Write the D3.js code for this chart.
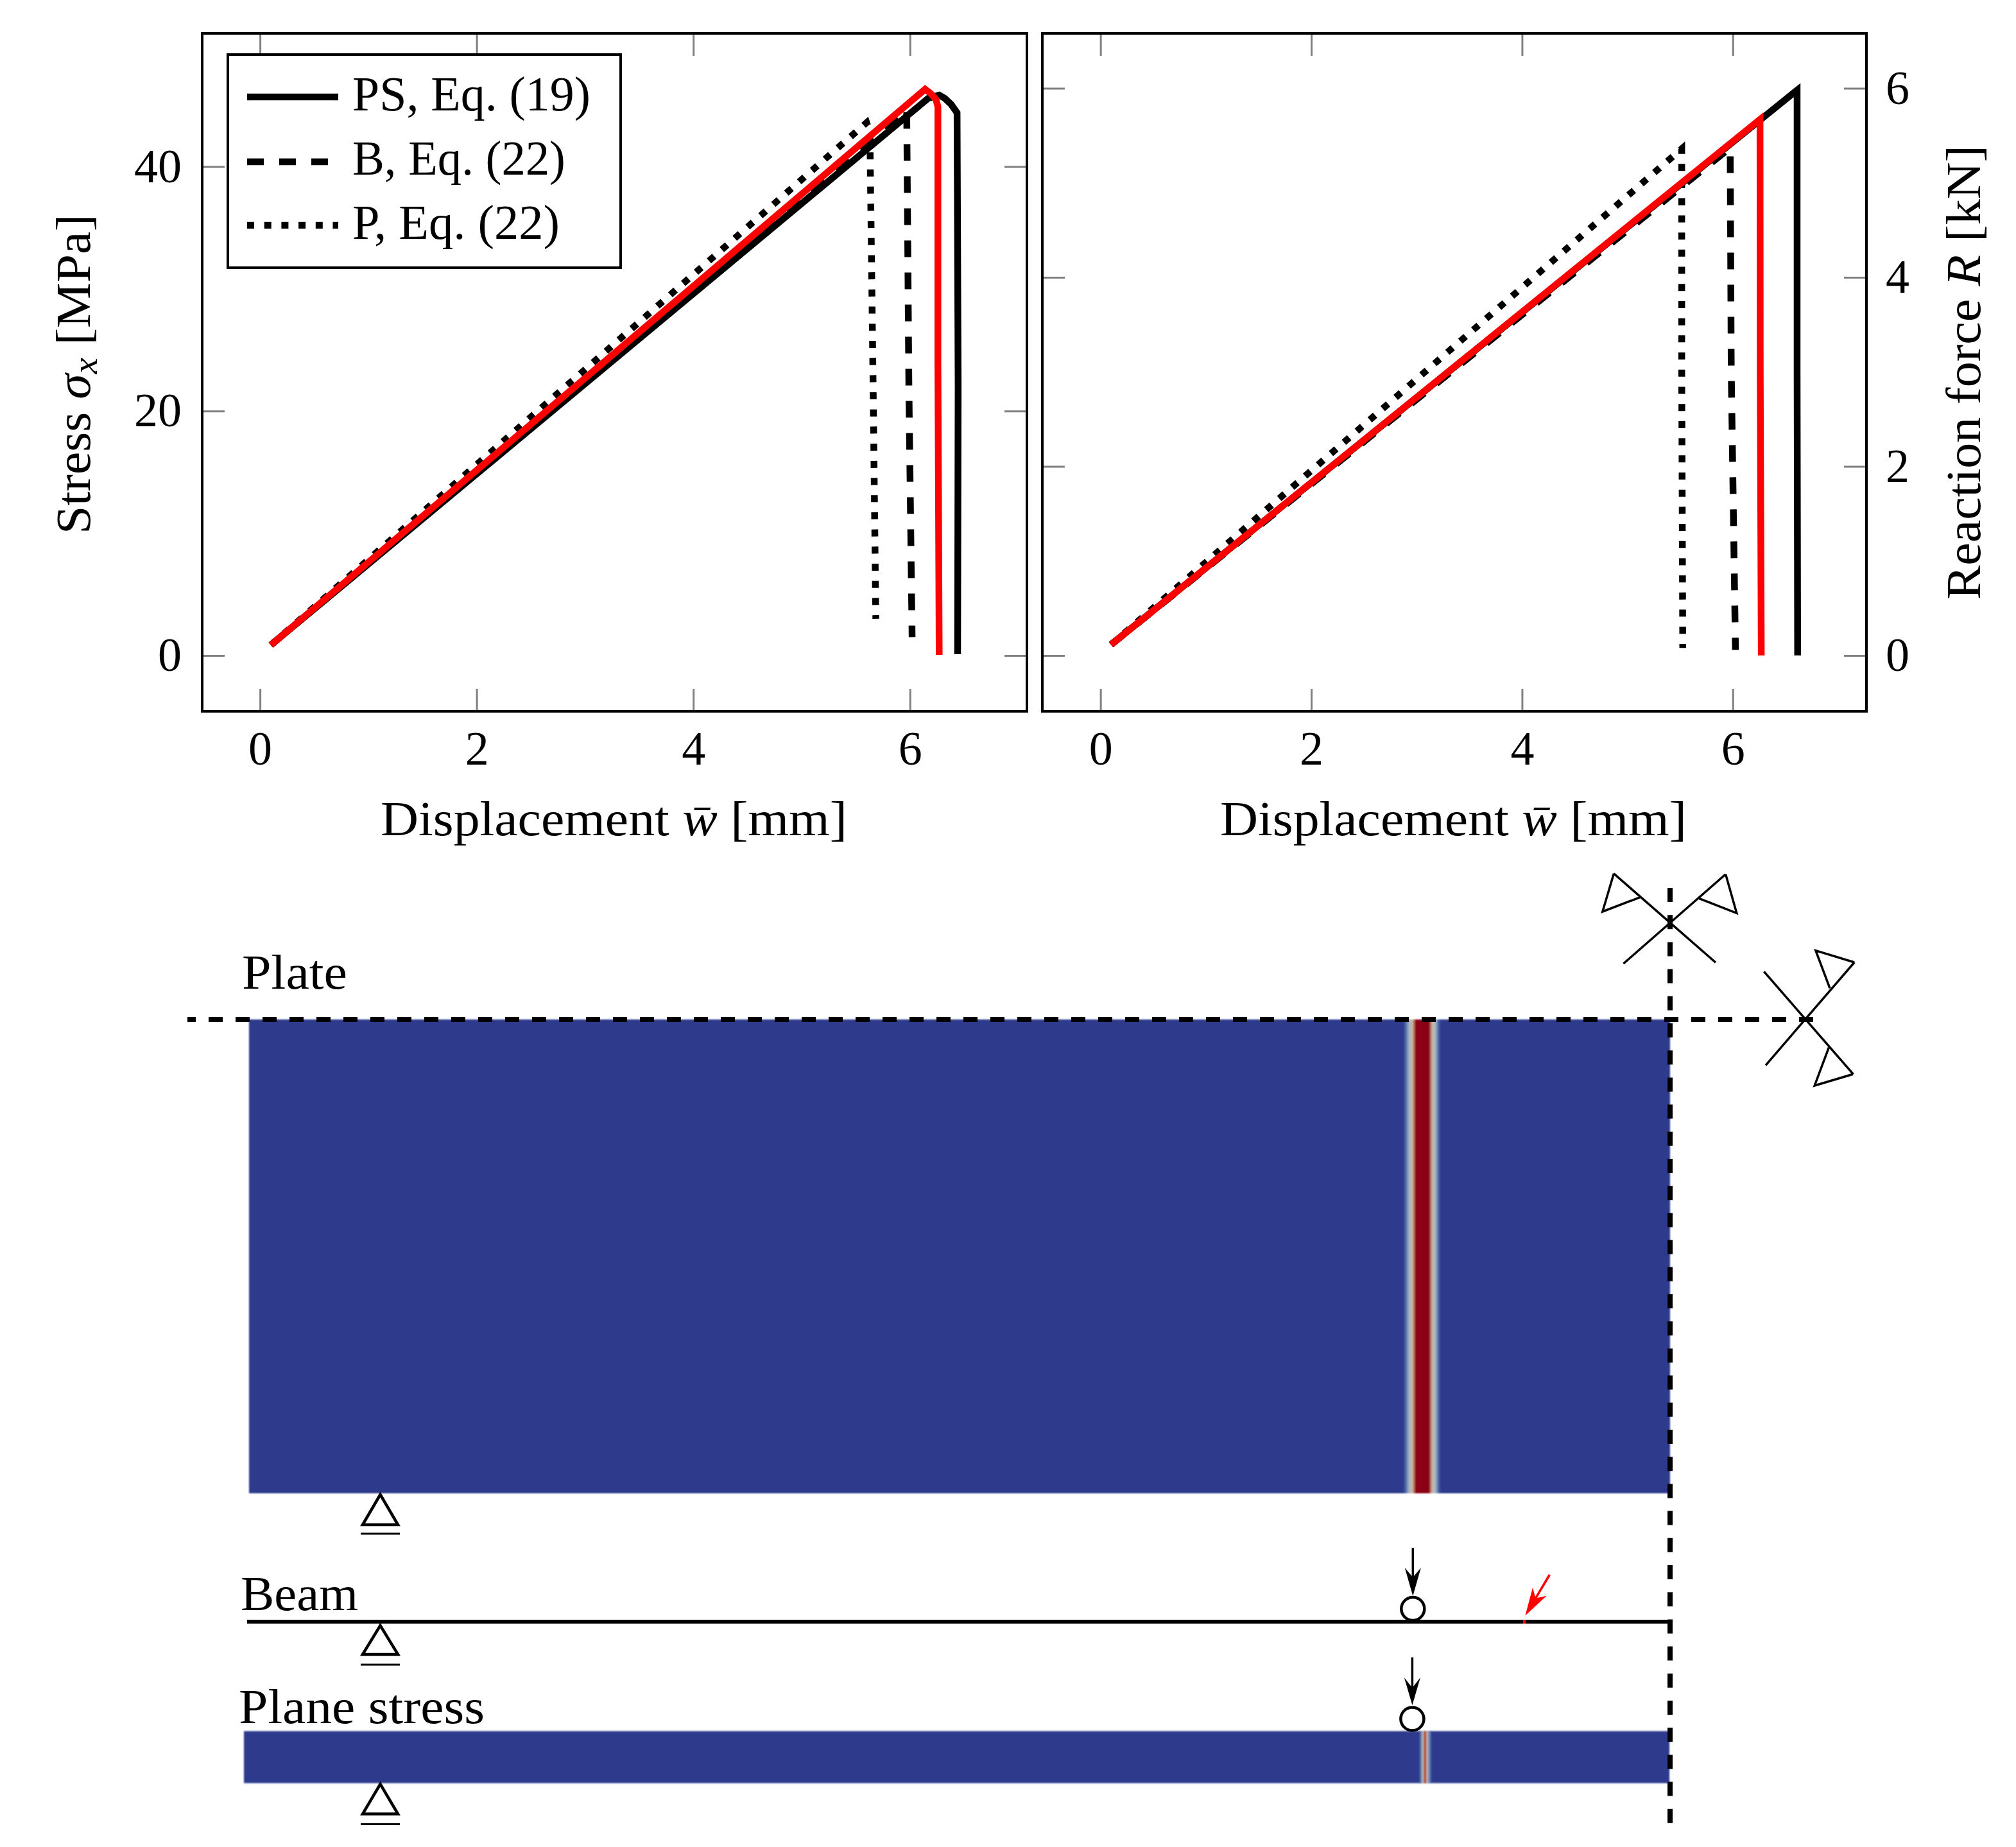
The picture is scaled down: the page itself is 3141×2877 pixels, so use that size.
<!DOCTYPE html>
<html>
<head>
<meta charset="utf-8">
<title>Stress and reaction force</title>
<script src="https://cdn.jsdelivr.net/npm/d3@7"></script>
<style>
  html, body { margin: 0; padding: 0; background: #fff; overflow: hidden; }
  svg { display: block; }
  text { font-family: "Liberation Serif", serif; fill: #000; }
</style>
</head>
<body>
<svg id="chart" width="3141" height="2877"></svg>
<script>
// tick values
var xTicks = [0, 2, 4, 6];
var stressTicks = [0, 20, 40];
var forceTicks = [0, 2, 4, 6];

// legend names
var seriesNames = ['PS, Eq. (19)', 'B, Eq. (22)', 'P, Eq. (22)'];

// stress plot
var psStressX = [0.10, 6.17, 6.27, 6.32, 6.38, 6.435, 6.445, 6.44];
var psStressY = [0.85, 45.6, 45.85, 45.6, 45.1, 44.4, 22.0, 0.1];
var bStressX = [0.10, 5.97, 5.99, 6.02];
var bStressY = [0.85, 44.7, 22.0, 1.5];
var pStressX = [0.10, 5.60, 5.63, 5.66, 5.685];
var pStressY = [0.85, 43.6, 42.8, 22.0, 3.0];
var redStressX = [0.10, 6.14, 6.19, 6.24, 6.258, 6.258, 6.27];
var redStressY = [0.85, 46.33, 46.0, 45.5, 44.9, 24.0, 0.05];

// reaction force plot
var psForceX = [0.10, 6.61, 6.61, 6.615];
var psForceY = [0.115, 5.98, 3.0, 0.0];
var bForceX = [0.10, 5.975, 5.985, 6.025];
var bForceY = [0.115, 5.37, 3.0, 0.06];
var pForceX = [0.10, 5.515, 5.515, 5.525];
var pForceY = [0.115, 5.36, 3.0, 0.08];
var redForceX = [0.10, 6.258, 6.26, 6.27];
var redForceY = [0.115, 5.67, 3.0, 0.0];

var svg = d3.select('#chart');
var BLUE = '#2e3a8c';
var DARKRED = '#8b0019';

function zip(xs, ys) {
  return xs.map(function(x, i) { return [x, ys[i]]; });
}

// Build one framed plot with ticks on all four sides
function drawPlot(o) {
  var g = svg.append('g');
  var x = d3.scaleLinear().domain(o.xDomain).range([o.left, o.right]);
  var y = d3.scaleLinear().domain(o.yDomain).range([o.bottom, o.top]);

  var axes = [
    { a: d3.axisBottom(x).tickValues(xTicks).tickFormat(d3.format('d')).tickPadding(30), t: 'translate(0,' + o.bottom + ')' },
    { a: d3.axisTop(x).tickValues(xTicks).tickFormat(''), t: 'translate(0,' + o.top + ')' },
    { a: d3.axisLeft(y).tickValues(o.yTicks).tickFormat(o.labelsLeft ? d3.format('d') : '').tickPadding(32), t: 'translate(' + o.left + ',0)' },
    { a: d3.axisRight(y).tickValues(o.yTicks).tickFormat(o.labelsLeft ? '' : d3.format('d')).tickPadding(30), t: 'translate(' + o.right + ',0)' }
  ];
  axes.forEach(function(d) {
    var ax = g.append('g').attr('transform', d.t).call(d.a.tickSizeInner(-35).tickSizeOuter(0));
    ax.select('.domain').remove();
    ax.selectAll('line').attr('stroke', '#808080').attr('stroke-width', 3);
    ax.selectAll('text').attr('font-family', '"Liberation Serif", serif').attr('font-size', 74).attr('fill', '#000');
  });

  g.append('rect')
    .attr('x', o.left).attr('y', o.top)
    .attr('width', o.right - o.left).attr('height', o.bottom - o.top)
    .attr('fill', 'none').attr('stroke', '#000').attr('stroke-width', 4);

  var line = d3.line().x(function(d) { return x(d[0]); }).y(function(d) { return y(d[1]); });
  o.series.forEach(function(s) {
    g.append('path')
      .datum(s.pts)
      .attr('d', line)
      .attr('fill', 'none')
      .attr('stroke', s.color)
      .attr('stroke-width', 10.5)
      .attr('stroke-dasharray', s.dash || null)
      .attr('stroke-linejoin', 'miter');
  });
}

var dashStyle = '26 24';
var dotStyle = '11 15.7';

drawPlot({
  left: 315, right: 1600, top: 52, bottom: 1108,
  xDomain: [-0.534, 7.08], yDomain: [-4.57, 50.9],
  yTicks: stressTicks, labelsLeft: true,
  series: [
    { pts: zip(psStressX, psStressY), color: '#000' },
    { pts: zip(bStressX, bStressY), color: '#000', dash: dashStyle },
    { pts: zip(pStressX, pStressY), color: '#000', dash: dotStyle },
    { pts: zip(redStressX, redStressY), color: '#ff0000' }
  ]
});

drawPlot({
  left: 1624, right: 2908, top: 52, bottom: 1108,
  xDomain: [-0.552, 7.268], yDomain: [-0.59, 6.58],
  yTicks: forceTicks, labelsLeft: false,
  series: [
    { pts: zip(psForceX, psForceY), color: '#000' },
    { pts: zip(bForceX, bForceY), color: '#000', dash: dashStyle },
    { pts: zip(pForceX, pForceY), color: '#000', dash: dotStyle },
    { pts: zip(redForceX, redForceY), color: '#ff0000' }
  ]
});

// Legend
var legendX = [385, 527];
var legendRows = [
  { y: 151, base: 172, dash: null, w: 371 },
  { y: 252, base: 272, dash: dashStyle, w: 332 },
  { y: 351, base: 372, dash: dotStyle, w: 323 }
];
svg.append('rect')
  .attr('x', 355).attr('y', 85).attr('width', 612).attr('height', 332)
  .attr('fill', '#fff').attr('stroke', '#000').attr('stroke-width', 4);
legendRows.forEach(function(r, i) {
  svg.append('line')
    .attr('x1', legendX[0]).attr('x2', legendX[1]).attr('y1', r.y).attr('y2', r.y)
    .attr('stroke', '#000').attr('stroke-width', 10.5).attr('stroke-dasharray', r.dash);
  svg.append('text')
    .attr('x', 549).attr('y', r.base)
    .attr('font-size', 76)
    .attr('textLength', r.w).attr('lengthAdjust', 'spacingAndGlyphs')
    .text(seriesNames[i]);
});

// Text with italic pieces: [string, italic?, sub?]
function richText(x, y, parts, width, rotate) {
  var t = svg.append('text').attr('font-size', 76);
  if (rotate) {
    t.attr('transform', 'translate(' + x + ',' + y + ') rotate(-90)');
  } else {
    t.attr('x', x).attr('y', y);
  }
  t.attr('textLength', width).attr('lengthAdjust', 'spacingAndGlyphs');
  parts.forEach(function(p) {
    var s = t.append('tspan').text(p[0]);
    if (p[1]) s.attr('font-style', 'italic');
    if (p[2] === 'sub') s.attr('font-size', 54).attr('dy', 11);
    if (p[2] === 'up') s.attr('dy', -11);
  });
}

var dispLabel = [['Displacement '], ['w\u0304', true], [' [mm]']];
richText(593, 1301, dispLabel, 727);
richText(1901, 1301, dispLabel, 727);
richText(140, 832, [['Stress '], ['\u03c3', true], ['x', true, 'sub'], [' [MPa]', false, 'up']], 498, true);
richText(3085, 934, [['Reaction force '], ['R', true], [' [kN]']], 708, true);

// Schematic labels
richText(377, 1540, [['Plate']], 164);
richText(375, 2508, [['Beam']], 183);
richText(372, 2684, [['Plane stress']], 383);

// Damage field colour profile across the localisation band
function bandGradient(id, x0, x1, stops) {
  var grad = svg.append('defs').append('linearGradient')
    .attr('id', id)
    .attr('gradientUnits', 'userSpaceOnUse')
    .attr('x1', x0).attr('x2', x1).attr('y1', 0).attr('y2', 0);
  grad.selectAll('stop').data(stops).enter().append('stop')
    .attr('offset', function(d) { return (d[0] - x0) / (x1 - x0); })
    .attr('stop-color', function(d) { return d[1]; });
}

bandGradient('plateBand', 2186, 2245, [
  [2186, BLUE], [2190, '#4a66a8'], [2195, '#a3b0c2'], [2200, '#c4bcae'],
  [2203, '#b97a5c'], [2206, DARKRED], [2226.5, DARKRED], [2229, '#b97a5c'],
  [2232, '#c4bcae'], [2237, '#a3b0c2'], [2241, '#4a66a8'], [2245, BLUE]
]);
bandGradient('planeBand', 2211, 2231, [
  [2211, BLUE], [2215, '#7f97c0'], [2217.5, '#c4bcae'], [2219, '#b8442e'],
  [2221, '#b8442e'], [2223, '#c4bcae'], [2226, '#7f97c0'], [2231, BLUE]
]);

// soft edge like the exported contour images
svg.append('defs').append('filter').attr('id', 'soft')
  .attr('x', '-1%').attr('y', '-5%').attr('width', '102%').attr('height', '110%')
  .append('feGaussianBlur').attr('stdDeviation', 1);

var fields = svg.append('g').attr('filter', 'url(#soft)');
fields.append('rect').attr('x', 388).attr('y', 1588).attr('width', 2214).attr('height', 738).attr('fill', BLUE);
fields.append('rect').attr('x', 2186).attr('y', 1588).attr('width', 59).attr('height', 738).attr('fill', 'url(#plateBand)');
fields.append('rect').attr('x', 380).attr('y', 2696.5).attr('width', 2221).attr('height', 81).attr('fill', BLUE);
fields.append('rect').attr('x', 2211).attr('y', 2696.5).attr('width', 20).attr('height', 81).attr('fill', 'url(#planeBand)');

// Beam
svg.append('line').attr('x1', 385).attr('x2', 2598).attr('y1', 2526).attr('y2', 2526).attr('stroke', '#000').attr('stroke-width', 6);
svg.append('line').attr('x1', 2373).attr('x2', 2377).attr('y1', 2526).attr('y2', 2526).attr('stroke', '#ff0000').attr('stroke-width', 6);

// Symmetry lines
svg.append('line').attr('x1', 2825).attr('x2', 292).attr('y1', 1588).attr('y2', 1588)
  .attr('stroke', '#000').attr('stroke-width', 8).attr('stroke-dasharray', '22 20');
svg.append('line').attr('x1', 2602).attr('x2', 2602).attr('y1', 1383).attr('y2', 2842)
  .attr('stroke', '#000').attr('stroke-width', 8).attr('stroke-dasharray', '22 20.2');

// Symmetry symbols
var thin = d3.line();
[
  [[2514.4, 1360.7], [2673, 1499.3]],
  [[2688.6, 1361.7], [2529.4, 1501]],
  [[2514.4, 1360.7], [2496.8, 1420], [2555.2, 1397.7]],
  [[2688.6, 1361.7], [2705.8, 1422.3], [2647, 1399.3]],
  [[2748.3, 1513.3], [2887.6, 1673.3]],
  [[2751, 1659.3], [2889.2, 1499]],
  [[2889.2, 1499], [2828.9, 1480.7], [2851, 1539.3]],
  [[2886.9, 1673.3], [2827.2, 1691], [2849.4, 1631.7]]
].forEach(function(p) {
  svg.append('path').attr('d', thin(p)).attr('fill', 'none').attr('stroke', '#000').attr('stroke-width', 3.5);
});

// Supports
[[2328, 2375, 2389], [2532, 2577, 2593], [2779, 2825.5, 2841.5]].forEach(function(s) {
  svg.append('path')
    .attr('d', thin([[592.5, s[0]], [565, s[1]], [620, s[1]]]) + 'Z')
    .attr('fill', 'none').attr('stroke', '#000').attr('stroke-width', 4.5);
  svg.append('line').attr('x1', 562).attr('x2', 623).attr('y1', s[2]).attr('y2', s[2])
    .attr('stroke', '#000').attr('stroke-width', 3);
});

// Load arrows and hinge circles
[[2201.3, 2411, 2442, 2457, 2486, 2506], [2200.4, 2581.5, 2613, 2629, 2656, 2677.5]].forEach(function(a) {
  svg.append('line').attr('x1', a[0]).attr('x2', a[0]).attr('y1', a[1]).attr('y2', a[3])
    .attr('stroke', '#000').attr('stroke-width', 3.5);
  svg.append('path')
    .attr('d', thin([[a[0], a[4]], [a[0] - 12.6, a[2]], [a[0], a[3]], [a[0] + 12.6, a[2]]]) + 'Z')
    .attr('fill', '#000');
  svg.append('circle').attr('cx', a[0]).attr('cy', a[5]).attr('r', 18)
    .attr('fill', '#fff').attr('stroke', '#000').attr('stroke-width', 4.5);
});

// Red arrow at the beam crack
svg.append('line').attr('x1', 2414.3).attr('y1', 2453).attr('x2', 2392.5).attr('y2', 2489.6)
  .attr('stroke', '#ff0000').attr('stroke-width', 3.5);
svg.append('path')
  .attr('d', thin([[2376.4, 2516.4], [2388, 2473], [2392.5, 2489.6], [2409.7, 2485.8]]) + 'Z')
  .attr('fill', '#ff0000');
</script>
</body>
</html>
